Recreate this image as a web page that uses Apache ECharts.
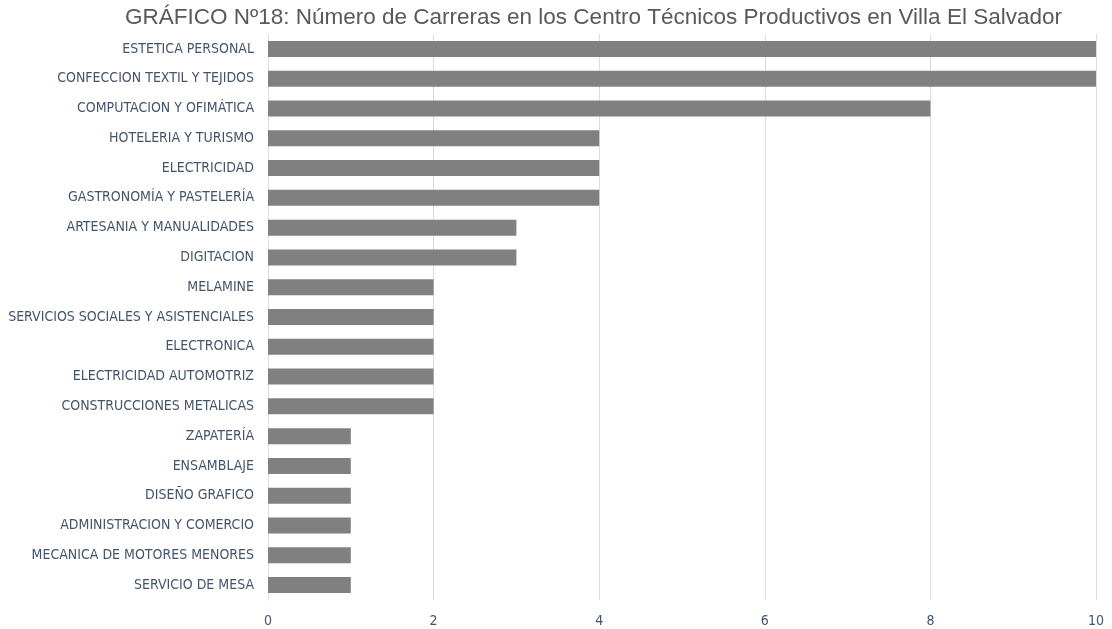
<!DOCTYPE html>
<html>
<head>
<meta charset="utf-8">
<script src="https://cdn.jsdelivr.net/npm/echarts@6/dist/echarts.min.js"></script>
<style>
  html, body { margin: 0; padding: 0; background: #fff; }
  #chart { width: 1112px; height: 629px; }
</style>
</head>
<body>
<div id="chart"></div>
<script>
  // categorias (de arriba hacia abajo)
  const categories = [
    'ESTETICA PERSONAL',
    'CONFECCION TEXTIL Y TEJIDOS',
    'COMPUTACION Y OFIMÁTICA',
    'HOTELERIA Y TURISMO',
    'ELECTRICIDAD',
    'GASTRONOMÍA Y PASTELERÍA',
    'ARTESANIA Y MANUALIDADES',
    'DIGITACION',
    'MELAMINE',
    'SERVICIOS SOCIALES Y ASISTENCIALES',
    'ELECTRONICA',
    'ELECTRICIDAD AUTOMOTRIZ',
    'CONSTRUCCIONES METALICAS',
    'ZAPATERÍA',
    'ENSAMBLAJE',
    'DISEÑO GRAFICO',
    'ADMINISTRACION Y COMERCIO',
    'MECANICA DE MOTORES MENORES',
    'SERVICIO DE MESA'
  ]
  const values = [10, 10, 8, 4, 4, 4, 3, 3, 2, 2, 2, 2, 2, 1, 1, 1, 1, 1, 1]
  const xTicks = [0, 2, 4, 6, 8, 10]

  const chart = echarts.init(document.getElementById('chart'))

  const options = {
    animation: false,
    title: {
      text: 'GRÁFICO Nº18: Número de Carreras en los Centro Técnicos Productivos en Villa El Salvador',
      left: 120,
      top: 1,
      textStyle: {
        fontFamily: 'Liberation Sans, Arial, sans-serif',
        fontSize: 22.5,
        fontWeight: 'normal',
        color: '#595959'
      }
    },
    grid: {
      top: 34,
      bottom: 29,
      left: 268,
      right: 16,
      containLabel: false
    },
    xAxis: {
      type: 'value',
      min: xTicks[0],
      max: xTicks[xTicks.length - 1],
      interval: 2,
      axisLine: { show: false },
      axisTick: { show: false },
      splitLine: { lineStyle: { color: '#d9dce3', width: 1 } },
      axisLabel: {
        margin: 14,
        color: '#44546a',
        fontFamily: 'Liberation Sans Narrow, DejaVu Sans Condensed, sans-serif',
        fontSize: 14
      }
    },
    yAxis: {
      type: 'category',
      data: categories,
      inverse: true,
      axisLine: { show: true, lineStyle: { color: '#d9dce3' } },
      axisTick: { show: false },
      axisLabel: {
        margin: 14,
        color: '#44546a',
        fontFamily: 'Liberation Sans Narrow, DejaVu Sans Condensed, sans-serif',
        fontSize: 14
      }
    },
    series: [
      {
        type: 'bar',
        data: values,
        barWidth: 16,
        itemStyle: { color: '#808080' }
      }
    ]
  }

  chart.setOption(options)
</script>
</body>
</html>
